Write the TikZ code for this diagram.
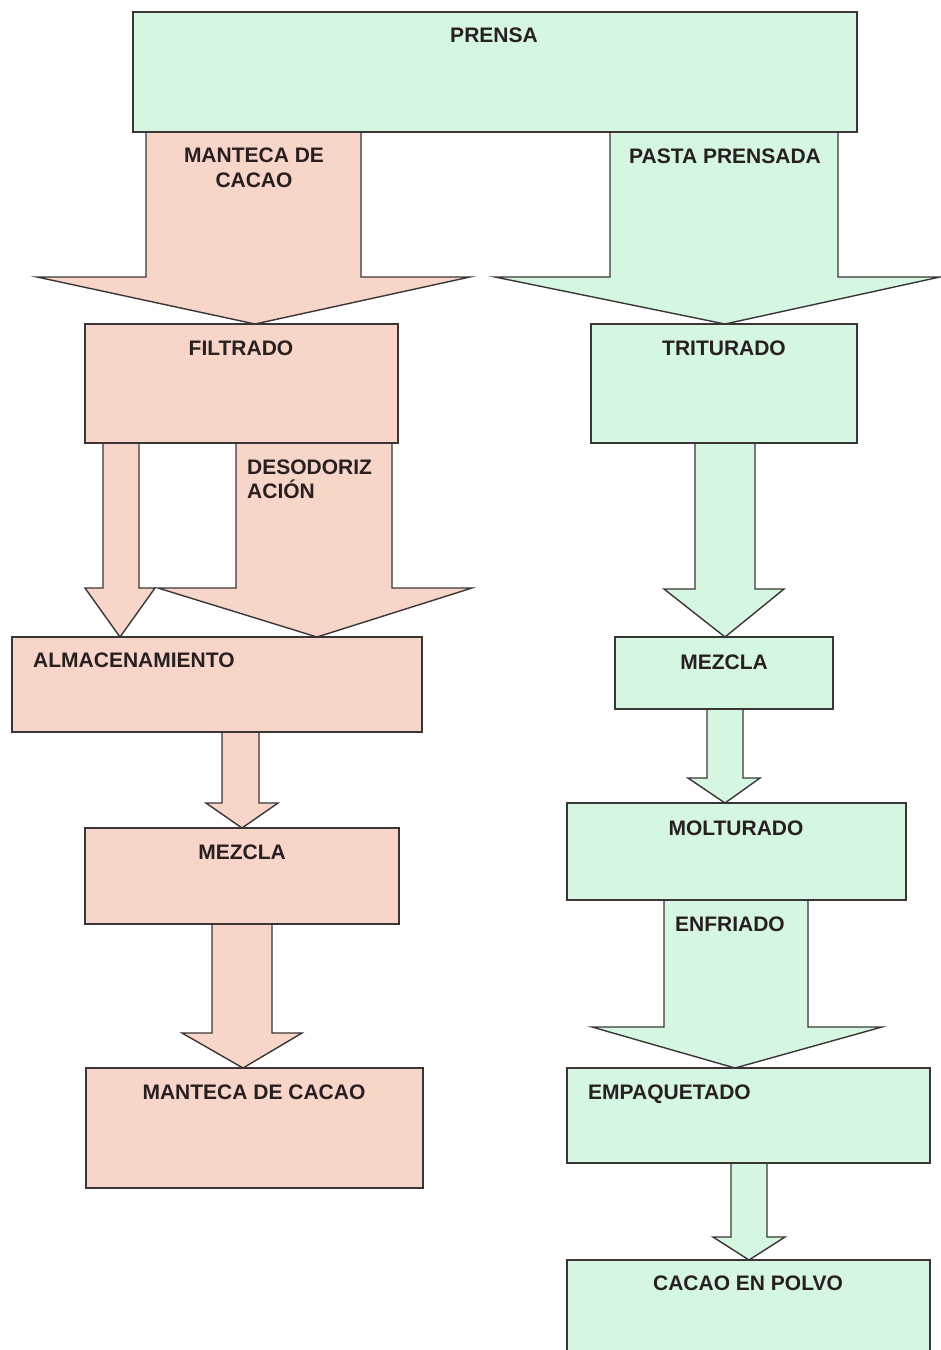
\documentclass[tikz,border=0pt]{standalone}
\usepackage{fontspec}
\setmainfont{Liberation Sans}
\definecolor{pinkfill}{RGB}{248,213,201}
\definecolor{greenfill}{RGB}{213,246,225}
\definecolor{edge}{RGB}{58,54,54}
\definecolor{ink}{RGB}{40,32,32}
\newcommand{\blockarrow}[9]{%
  \filldraw[arr, fill=#1] (#4,0 |- #2.south) -- (#4,#6) -- (#7,#6) -- (#9,0 |- #3.north)
    -- (#8,#6) -- (#5,#6) -- (#5,0 |- #2.south) -- cycle;}
\begin{document}
\begin{tikzpicture}[x=1pt,y=-1pt,
  box/.style={draw=edge, line width=1.4pt, rectangle, inner sep=0pt, outer sep=0pt},
  arr/.style={draw=edge, line width=1.4pt, line join=miter},
  lbl/.style={inner sep=0pt, text=ink, font=\bfseries\fontsize{21}{25}\selectfont},
  pinkbox/.style={box, fill=pinkfill},
  greenbox/.style={box, fill=greenfill}]
\clip (0,0) rectangle (941,1350);
\fill[white] (0,0) rectangle (941,1350);
% boxes as coordinates first (nodes need to exist before arrows reference them)
\path
  node[minimum width=724pt, minimum height=120pt, box, draw=none] (prensa) at (495,72) {}
  node[minimum width=313pt, minimum height=119pt, box, draw=none] (filtrado) at (241.5,383.5) {}
  node[minimum width=266pt, minimum height=119pt, box, draw=none] (triturado) at (724,383.5) {}
  node[minimum width=410pt, minimum height=95pt, box, draw=none] (almacen) at (217,684.5) {}
  node[minimum width=314pt, minimum height=96pt, box, draw=none] (mezclaL) at (242,876) {}
  node[minimum width=337pt, minimum height=120pt, box, draw=none] (manteca) at (254.5,1128) {}
  node[minimum width=218pt, minimum height=72pt, box, draw=none] (mezclaR) at (724,673) {}
  node[minimum width=339pt, minimum height=97pt, box, draw=none] (molturado) at (736.5,851.5) {}
  node[minimum width=363pt, minimum height=95pt, box, draw=none] (empaquetado) at (748.5,1115.5) {}
  node[minimum width=363pt, minimum height=100pt, box, draw=none] (cacao) at (748.5,1310) {};
% block arrows
\blockarrow{pinkfill}{prensa}{filtrado}{146}{361}{277}{37}{470}{255}
\blockarrow{greenfill}{prensa}{triturado}{610}{838}{277}{495}{940}{725}
\blockarrow{pinkfill}{filtrado}{almacen}{103}{139}{588}{85}{155}{120}
\blockarrow{pinkfill}{filtrado}{almacen}{236}{392}{588}{158}{472}{317}
\blockarrow{pinkfill}{almacen}{mezclaL}{222}{259}{803}{206}{278}{242}
\blockarrow{pinkfill}{mezclaL}{manteca}{212}{272}{1033}{182}{302}{243}
\blockarrow{greenfill}{triturado}{mezclaR}{695}{755}{589}{664}{784}{725}
\blockarrow{greenfill}{mezclaR}{molturado}{707}{743}{778}{688}{760}{725}
\blockarrow{greenfill}{molturado}{empaquetado}{664}{808}{1027}{592}{882}{735}
\blockarrow{greenfill}{empaquetado}{cacao}{731}{767}{1237}{713}{785}{749}
% visible boxes
\draw[greenbox] (prensa.north west) rectangle (prensa.south east);
\draw[pinkbox] (filtrado.north west) rectangle (filtrado.south east);
\draw[greenbox] (triturado.north west) rectangle (triturado.south east);
\draw[pinkbox] (almacen.north west) rectangle (almacen.south east);
\draw[pinkbox] (mezclaL.north west) rectangle (mezclaL.south east);
\draw[pinkbox] (manteca.north west) rectangle (manteca.south east);
\draw[greenbox] (mezclaR.north west) rectangle (mezclaR.south east);
\draw[greenbox] (molturado.north west) rectangle (molturado.south east);
\draw[greenbox] (empaquetado.north west) rectangle (empaquetado.south east);
\draw[greenbox] (cacao.north west) rectangle (cacao.south east);
% labels
\node[lbl, anchor=base] (tprensa) at (494,42) {PRENSA};
\node[lbl, anchor=base] (tmant1) at (254,162) {MANTECA DE};
\node[lbl, anchor=base] (tmant2) at (254,187) {CACAO};
\node[lbl, anchor=base] (tpasta) at (725,163) {PASTA PRENSADA};
\node[lbl, anchor=base] (tfilt) at (241,355) {FILTRADO};
\node[lbl, anchor=base] (ttrit) at (724,355) {TRITURADO};
\node[lbl, anchor=base west] (tdes1) at (247,474) {DESODORIZ};
\node[lbl, anchor=base west] (tdes2) at (247,498) {ACIÓN};
\node[lbl, anchor=base west] (talm) at (33,667) {ALMACENAMIENTO};
\node[lbl, anchor=base] (tmezL) at (242,859) {MEZCLA};
\node[lbl, anchor=base] (tmanteca) at (254,1099) {MANTECA DE CACAO};
\node[lbl, anchor=base] (tmezR) at (724,669) {MEZCLA};
\node[lbl, anchor=base] (tmolt) at (736,835) {MOLTURADO};
\node[lbl, anchor=base] (tenfr) at (730,931) {ENFRIADO};
\node[lbl, anchor=base west] (temp) at (588,1099) {EMPAQUETADO};
\node[lbl, anchor=base] (tcacao) at (748,1290) {CACAO EN POLVO};
\end{tikzpicture}
\end{document}
